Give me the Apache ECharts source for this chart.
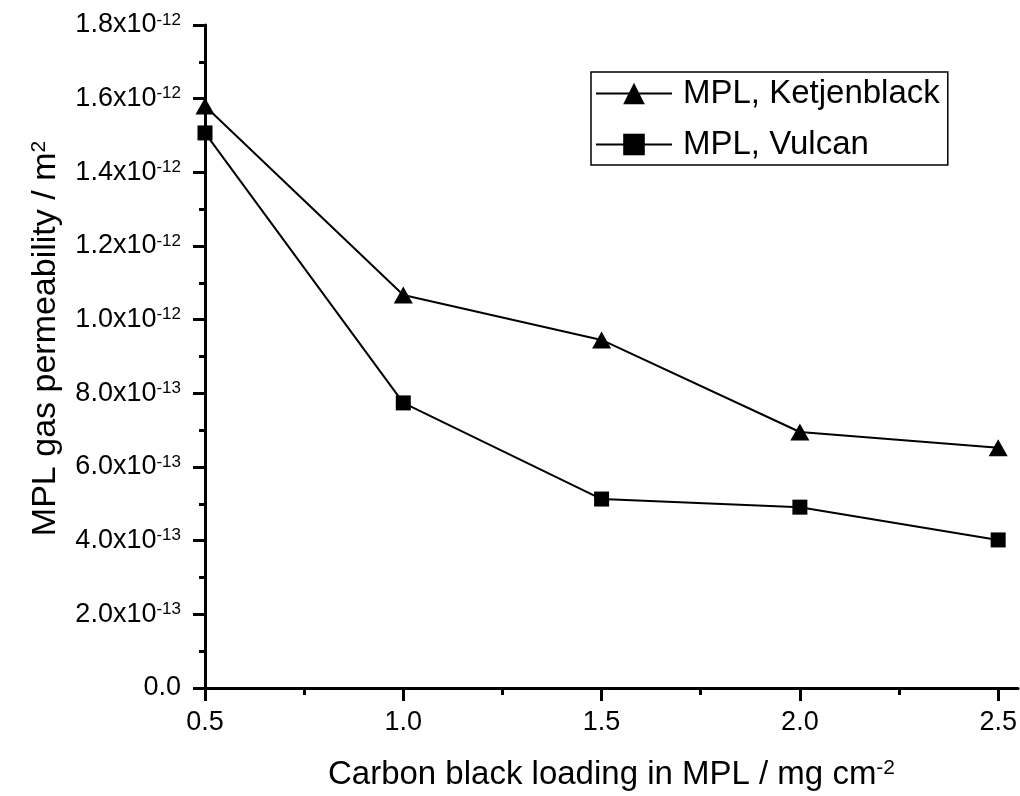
<!DOCTYPE html>
<html>
<head>
<meta charset="utf-8">
<script src="https://cdn.jsdelivr.net/npm/echarts@6/dist/echarts.min.js"></script>
<style>
  html, body { margin: 0; padding: 0; background: #fff; }
  #chart { width: 1020px; height: 796px; }
</style>
</head>
<body>
<div id="chart"></div>
<script>
// carbon black loading, mg cm^-2
const loadings = [0.5, 1.0, 1.5, 2.0, 2.5]
// gas permeability, m^2
const ketjenblack = [1.58e-12, 1.067e-12, 0.945e-12, 0.695e-12, 0.652e-12]
const vulcan = [1.507e-12, 0.774e-12, 0.513e-12, 0.491e-12, 0.402e-12]
const xMajorTicks = [0.5, 1.0, 1.5, 2.0, 2.5]
const xMinorTicks = [0.75, 1.25, 1.75, 2.25]

const FONT = '"Liberation Sans", Arial, sans-serif'

function pairs(xs, ys) {
  return xs.map((x, i) => [x, ys[i]])
}

function sciLabel(v) {
  if (Math.abs(v) < 1e-20) return '{a|0.0}'
  const exp = Math.floor(Math.log10(v) + 1e-9)
  const mant = (v / Math.pow(10, exp)).toFixed(1)
  return '{a|' + mant + 'x10}{s|' + exp + '}'
}

const chart = echarts.init(document.getElementById('chart'))

const option = {
  backgroundColor: '#fff',
  animation: false,
  textStyle: { fontFamily: FONT, color: '#000' },
  grid: { left: 205, right: 2, top: 25, bottom: 108 },
  legend: {
    left: 591,
    top: 72,
    orient: 'vertical',
    padding: [5, 8, 4, 4],
    itemWidth: 76,
    itemHeight: 27,
    itemGap: 18,
    borderColor: '#000',
    borderWidth: 1.5,
    borderRadius: 0,
    textStyle: { fontSize: 33, fontFamily: FONT, color: '#000', padding: [0, 0, 0, 6] },
    data: ['MPL, Ketjenblack', 'MPL, Vulcan']
  },
  xAxis: [
    {
      type: 'value',
      min: 0.5,
      max: 2.55,
      interval: 0.5,
      name: '{t|Carbon black loading in MPL / mg cm}{s|-2}',
      nameLocation: 'middle',
      nameGap: 70,
      nameTextStyle: {
        rich: {
          t: { fontSize: 33, fontFamily: FONT, color: '#000' },
          s: { fontSize: 21, fontFamily: FONT, color: '#000', verticalAlign: 'top' }
        }
      },
      splitLine: { show: false },
      axisLine: { show: true, onZero: false, lineStyle: { color: '#000', width: 3 } },
      axisTick: { show: true, customValues: xMajorTicks, length: 13, lineStyle: { width: 3, color: '#000' } },
      axisLabel: {
        customValues: xMajorTicks,
        margin: 21,
        fontSize: 27,
        fontFamily: FONT,
        color: '#000',
        formatter: v => v.toFixed(1)
      }
    },
    {
      type: 'value',
      position: 'bottom',
      offset: 0,
      min: 0.5,
      max: 2.55,
      splitLine: { show: false },
      axisLine: { show: false },
      axisTick: { show: true, customValues: xMinorTicks, length: 7, lineStyle: { width: 3, color: '#000' } },
      axisLabel: { show: false }
    }
  ],
  yAxis: {
    type: 'value',
    min: 0,
    max: 1.8e-12,
    interval: 0.2e-12,
    name: '{t|MPL gas permeability / m}{s|2}',
    nameLocation: 'middle',
    nameRotate: 90,
    nameGap: 142,
    nameTextStyle: {
      padding: [0, 0, 0, 36],
      rich: {
        t: { fontSize: 34, fontFamily: FONT, color: '#000' },
        s: { fontSize: 21, fontFamily: FONT, color: '#000', verticalAlign: 'top' }
      }
    },
    splitLine: { show: false },
    axisLine: { show: true, onZero: false, lineStyle: { color: '#000', width: 3 } },
    axisTick: { show: true, length: 12, lineStyle: { width: 3, color: '#000' } },
    minorTick: { show: true, splitNumber: 2, length: 6, lineStyle: { width: 3, color: '#000' } },
    axisLabel: {
      margin: 24,
      formatter: sciLabel,
      rich: {
        a: { fontSize: 27, fontFamily: FONT, color: '#000' },
        s: { fontSize: 17, fontFamily: FONT, color: '#000', verticalAlign: 'top' }
      }
    }
  },
  series: [
    {
      name: 'MPL, Ketjenblack',
      type: 'line',
      data: pairs(loadings, ketjenblack),
      symbol: 'triangle',
      symbolSize: [19, 17],
      itemStyle: { color: '#000' },
      lineStyle: { color: '#000', width: 2 }
    },
    {
      name: 'MPL, Vulcan',
      type: 'line',
      data: pairs(loadings, vulcan),
      symbol: 'rect',
      symbolSize: 15,
      itemStyle: { color: '#000' },
      lineStyle: { color: '#000', width: 2 }
    }
  ]
}

chart.setOption(option)
</script>
</body>
</html>
